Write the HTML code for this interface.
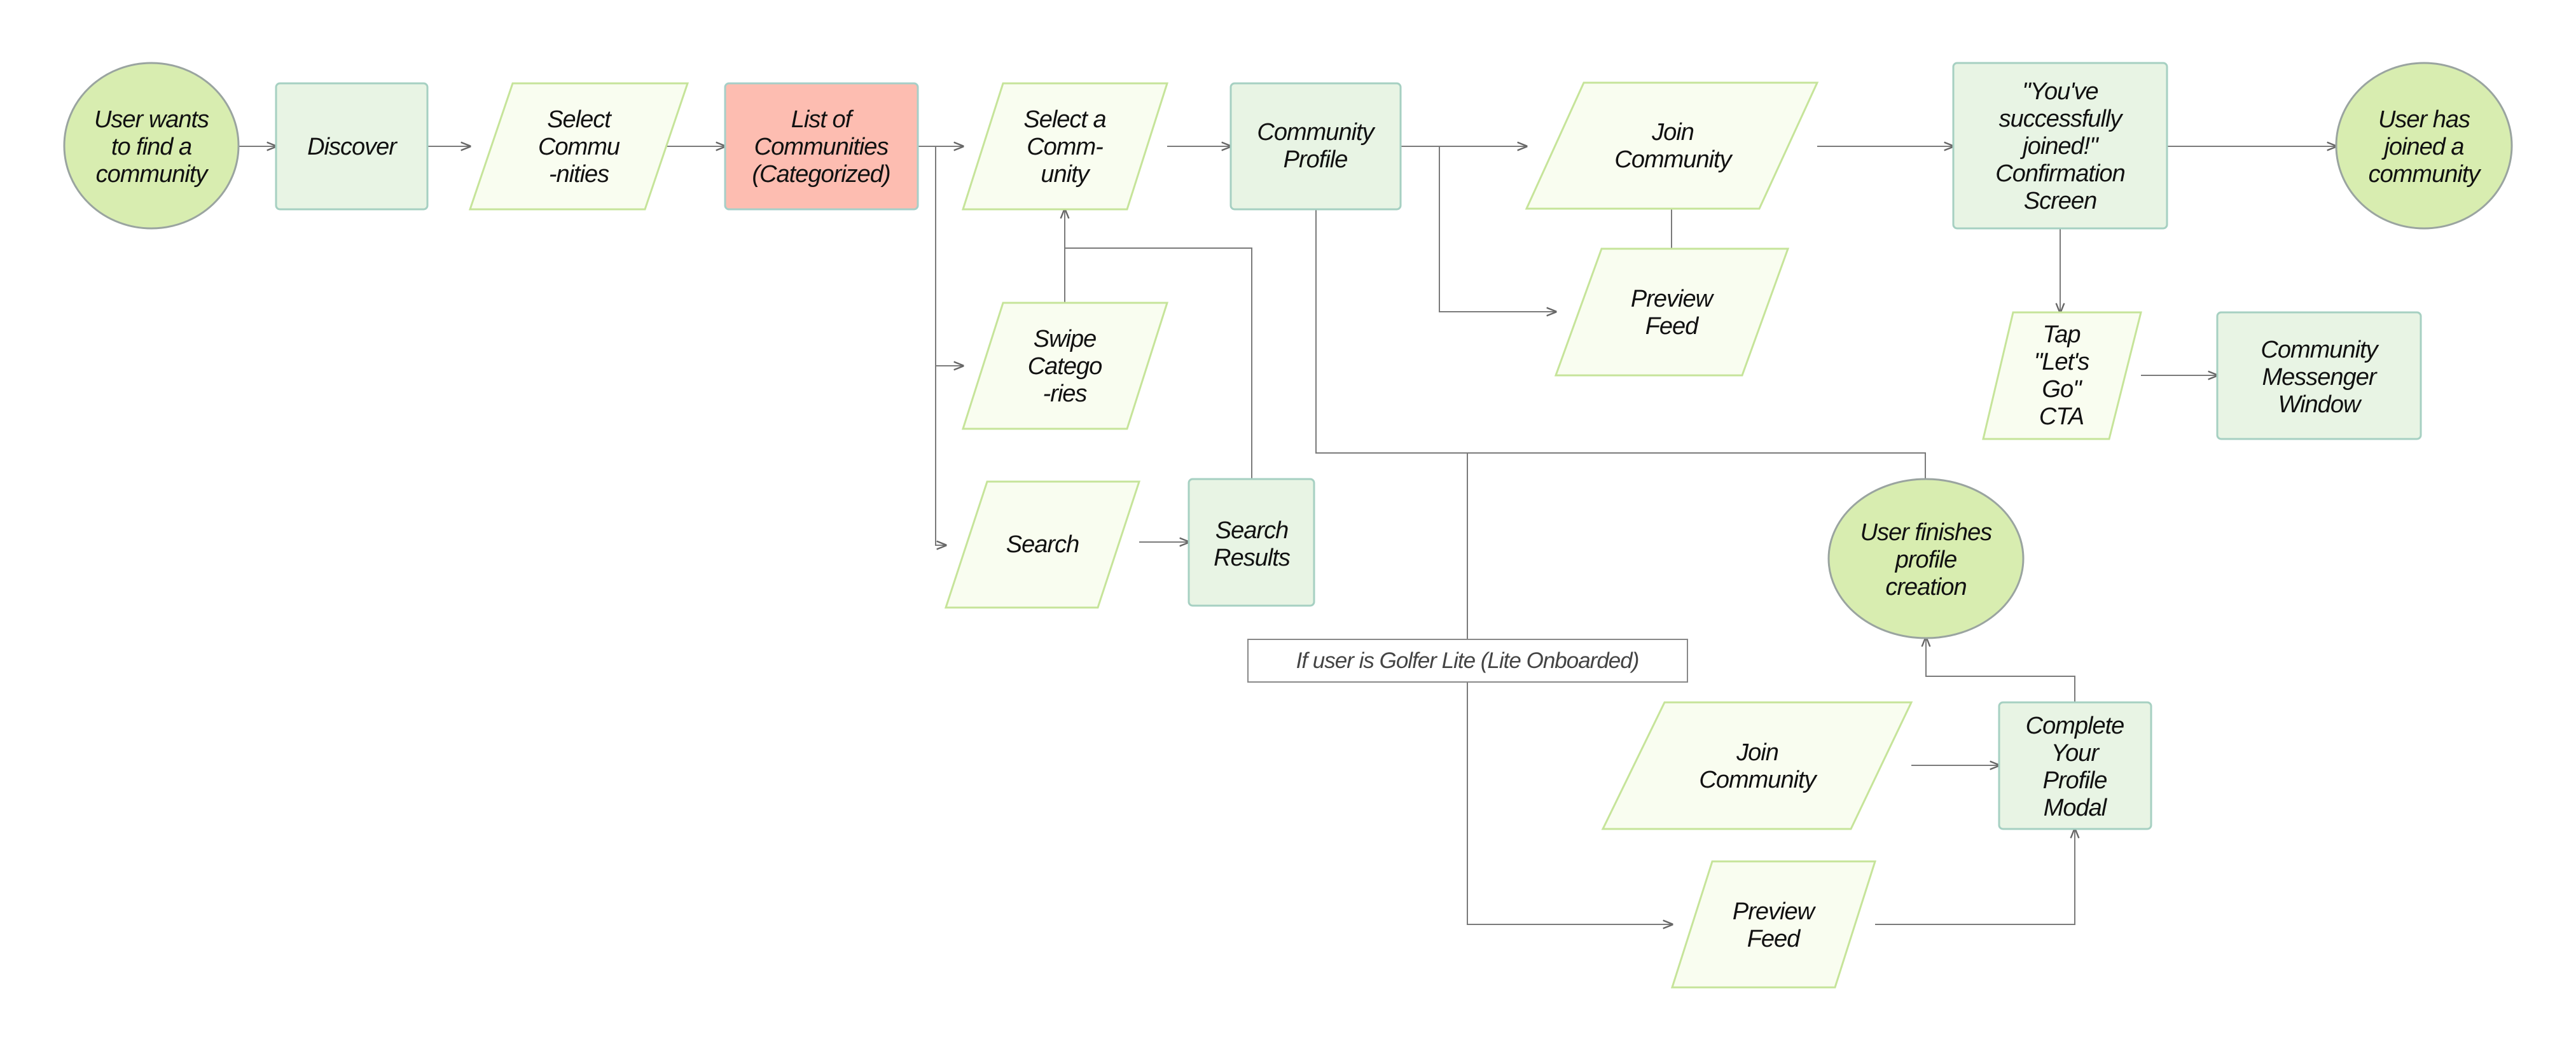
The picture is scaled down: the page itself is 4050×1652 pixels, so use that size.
<!DOCTYPE html>
<html><head><meta charset="utf-8"><style>
html,body{margin:0;padding:0;background:#fff;}
svg{display:block;}
text{font-family:"Liberation Sans",sans-serif;font-style:italic;font-size:38px;fill:#111;text-anchor:middle;letter-spacing:-1px;}
.el{fill:#d8edb0;stroke:#9aa4a0;stroke-width:3;}
.rc{fill:#e8f4e4;stroke:#a6d0c2;stroke-width:3;}
.pa{fill:#f9fdf0;stroke:#c6e49a;stroke-width:3;}
.ln{fill:none;stroke:#7a7a7a;stroke-width:2;}
</style></head><body>
<svg width="4050" height="1652" viewBox="0 0 4050 1652" xmlns="http://www.w3.org/2000/svg">
<defs><marker id="a" viewBox="0 0 10 10" refX="9" refY="5" markerWidth="8" markerHeight="8" orient="auto"><path d="M0,1L10,5L0,9" fill="none" stroke="#666" stroke-width="1.5"/></marker></defs>

<!-- connectors -->
<g class="ln">
<path d="M375,230H434" marker-end="url(#a)"/>
<path d="M672,230H739" marker-end="url(#a)"/>
<path d="M1014,230H1140" marker-end="url(#a)"/>
<path d="M1443,230H1514" marker-end="url(#a)"/>
<path d="M1471,230V857H1487" marker-end="url(#a)"/>
<path d="M1471,575H1514" marker-end="url(#a)"/>
<path d="M1674,476V329" marker-end="url(#a)"/>
<path d="M1674,390H1968V753"/>
<path d="M1835,230H1935" marker-end="url(#a)"/>
<path d="M1791,852H1869" marker-end="url(#a)"/>
<path d="M2202,230H2400" marker-end="url(#a)"/>
<path d="M2263,230V490H2446" marker-end="url(#a)"/>
<path d="M2628,328V391"/>
<path d="M2857,230H3071" marker-end="url(#a)"/>
<path d="M3407,230H3673" marker-end="url(#a)"/>
<path d="M3239,359V491" marker-end="url(#a)"/>
<path d="M3366,590H3486" marker-end="url(#a)"/>
<path d="M2069,329V712H3027V753"/>
<path d="M2307,712V1005"/>
<path d="M2307,1072V1453H2629" marker-end="url(#a)"/>
<path d="M3262,1104V1063H3028V1002" marker-end="url(#a)"/>
<path d="M3005,1203H3143" marker-end="url(#a)"/>
<path d="M2948,1453H3262V1303" marker-end="url(#a)"/>
</g>

<!-- row 1 -->
<ellipse class="el" cx="238" cy="229" rx="137" ry="130"/>
<text x="238" y="200">User wants</text><text x="238" y="243">to find a</text><text x="238" y="286">community</text>

<rect class="rc" x="434" y="131" width="238" height="198" rx="6"/>
<text x="553" y="243">Discover</text>

<polygon class="pa" points="806,131 1081,131 1014,329 739,329"/>
<text x="910" y="200">Select</text><text x="910" y="243">Commu</text><text x="910" y="286">-nities</text>

<rect x="1140" y="131" width="303" height="198" rx="6" fill="#fdbdb1" stroke="#a6cfc8" stroke-width="3"/>
<text x="1291" y="200">List of</text><text x="1291" y="243">Communities</text><text x="1291" y="286">(Categorized)</text>

<polygon class="pa" points="1577,131 1835,131 1772,329 1514,329"/>
<text x="1674" y="200">Select a</text><text x="1674" y="243">Comm-</text><text x="1674" y="286">unity</text>

<rect class="rc" x="1935" y="131" width="267" height="198" rx="6"/>
<text x="2068" y="220">Community</text><text x="2068" y="263">Profile</text>

<polygon class="pa" points="2490,130 2857,130 2766,328 2400,328"/>
<text x="2630" y="220">Join</text><text x="2630" y="263">Community</text>

<rect class="rc" x="3071" y="99" width="336" height="260" rx="6"/>
<text x="3239" y="156">"You've</text><text x="3239" y="199">successfully</text><text x="3239" y="242">joined!"</text><text x="3239" y="285">Confirmation</text><text x="3239" y="328">Screen</text>

<ellipse class="el" cx="3811" cy="229" rx="138" ry="130"/>
<text x="3811" y="200">User has</text><text x="3811" y="243">joined a</text><text x="3811" y="286">community</text>

<!-- row 2 -->
<polygon class="pa" points="1577,476 1835,476 1772,674 1514,674"/>
<text x="1674" y="545">Swipe</text><text x="1674" y="588">Catego</text><text x="1674" y="631">-ries</text>

<polygon class="pa" points="2518,391 2811,391 2739,590 2446,590"/>
<text x="2628" y="482">Preview</text><text x="2628" y="525">Feed</text>

<polygon class="pa" points="3165,491 3366,491 3316,690 3118,690"/>
<text x="3241" y="538">Tap</text><text x="3241" y="581">"Let's</text><text x="3241" y="624">Go"</text><text x="3241" y="667">CTA</text>

<rect class="rc" x="3486" y="491" width="320" height="199" rx="6"/>
<text x="3646" y="562">Community</text><text x="3646" y="605">Messenger</text><text x="3646" y="648">Window</text>

<!-- row 3 -->
<polygon class="pa" points="1552,757 1791,757 1726,955 1487,955"/>
<text x="1639" y="868">Search</text>

<rect class="rc" x="1869" y="753" width="197" height="199" rx="6"/>
<text x="1968" y="846">Search</text><text x="1968" y="889">Results</text>

<ellipse class="el" cx="3028" cy="878" rx="153" ry="125"/>
<text x="3028" y="849">User finishes</text><text x="3028" y="892">profile</text><text x="3028" y="935">creation</text>

<rect x="1962" y="1005" width="691" height="67" fill="#fff" stroke="#888" stroke-width="2"/>
<text x="2307" y="1050" style="font-size:35px;fill:#444">If user is Golfer Lite (Lite Onboarded)</text>

<polygon class="pa" points="2617,1104 3005,1104 2910,1303 2520,1303"/>
<text x="2763" y="1195">Join</text><text x="2763" y="1238">Community</text>

<rect class="rc" x="3143" y="1104" width="239" height="199" rx="6"/>
<text x="3262" y="1153">Complete</text><text x="3262" y="1196">Your</text><text x="3262" y="1239">Profile</text><text x="3262" y="1282">Modal</text>

<polygon class="pa" points="2692,1354 2948,1354 2885,1552 2629,1552"/>
<text x="2788" y="1445">Preview</text><text x="2788" y="1488">Feed</text>
</svg>
</body></html>
